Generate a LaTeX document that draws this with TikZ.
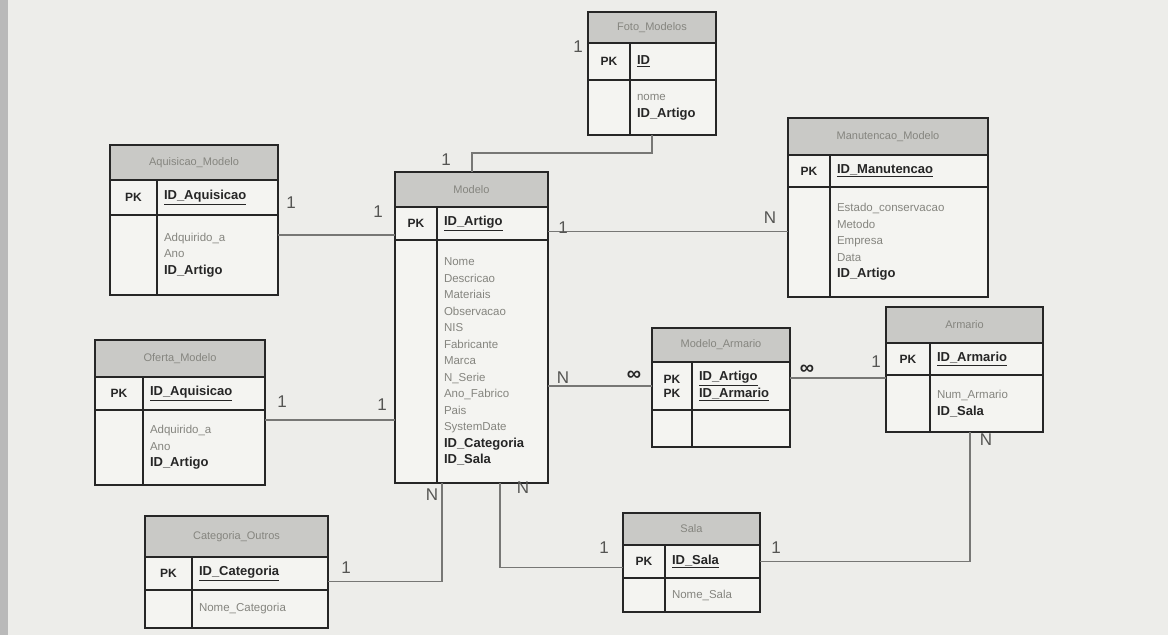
\documentclass[tikz,border=0pt]{standalone}
\usepackage{fontspec}
\setmainfont{Liberation Sans}
\usetikzlibrary{positioning}
\definecolor{paper}{HTML}{EDEDEA}
\definecolor{cellbg}{HTML}{F4F4F1}
\definecolor{hdrbg}{HTML}{C9C9C6}
\definecolor{ink}{HTML}{262626}
\definecolor{fld}{HTML}{85857F}
\definecolor{lbl}{HTML}{555553}
\definecolor{wire}{HTML}{777775}
\newcommand\idf[1]{{\fontsize{13}{16.5}\selectfont\bfseries\color{ink}#1}}
\newcommand\pkf[1]{\idf{\underline{#1}}}
\begin{document}
\begin{tikzpicture}[
    x=1pt,y=-1pt,
    box/.style={draw=ink,line width=1.6pt,outer sep=0pt,inner sep=0pt,anchor=north west},
    hd/.style={box,fill=hdrbg,text=fld,font=\fontsize{11}{13}\selectfont},
    kc/.style={box,fill=cellbg,text=ink,align=center,font=\fontsize{12}{14}\selectfont\bfseries},
    fc/.style={box,fill=cellbg,text=fld,align=left,inner xsep=7pt,font=\fontsize{11.5}{16.5}\selectfont},
    conn/.style={draw=wire,line width=1.1pt},
    card/.style={text=lbl,font=\fontsize{17}{17}\selectfont,inner sep=0pt},
    inf/.style={text=ink,font=\fontsize{20}{20}\selectfont\bfseries,inner sep=0pt}
  ]
    \useasboundingbox (0,0) rectangle (1168,635);
    \fill[paper] (0,0) rectangle (1168,635);
    \fill[gray!55] (0,0) rectangle (8,635);
    % Foto_Modelos
    \node[hd, minimum width=128pt, minimum height=31pt] (foto) at (588,12) {Foto\_Modelos};
    \node[kc, minimum width=42pt, minimum height=37pt] (foto-k) at (foto.south west) {PK};
    \node[fc, text width=72pt, minimum height=37pt] (foto-id) at (foto-k.north east) {\pkf{ID}};
    \node[kc, minimum width=42pt, minimum height=55pt] (foto-b) at (foto-k.south west) {};
    \node[fc, text width=72pt, minimum height=55pt] (foto-f) at (foto-b.north east) {nome\\\idf{ID\_Artigo}};
    % Aquisicao_Modelo
    \node[hd, minimum width=168pt, minimum height=35pt] (aqu) at (110,145) {Aquisicao\_Modelo};
    \node[kc, minimum width=47pt, minimum height=35pt] (aqu-k) at (aqu.south west) {PK};
    \node[fc, text width=107pt, minimum height=35pt] (aqu-id) at (aqu-k.north east) {\pkf{ID\_Aquisicao}};
    \node[kc, minimum width=47pt, minimum height=80pt] (aqu-b) at (aqu-k.south west) {};
    \node[fc, text width=107pt, minimum height=80pt] (aqu-f) at (aqu-b.north east) {Adquirido\_a\\Ano\\\idf{ID\_Artigo}};
    % Oferta_Modelo
    \node[hd, minimum width=170pt, minimum height=37pt] (ofe) at (95,340) {Oferta\_Modelo};
    \node[kc, minimum width=48pt, minimum height=33pt] (ofe-k) at (ofe.south west) {PK};
    \node[fc, text width=108pt, minimum height=33pt] (ofe-id) at (ofe-k.north east) {\pkf{ID\_Aquisicao}};
    \node[kc, minimum width=48pt, minimum height=75pt] (ofe-b) at (ofe-k.south west) {};
    \node[fc, text width=108pt, minimum height=75pt] (ofe-f) at (ofe-b.north east) {Adquirido\_a\\Ano\\\idf{ID\_Artigo}};
    % Modelo
    \node[hd, minimum width=153pt, minimum height=35pt] (modelo) at (395,172) {Modelo};
    \node[kc, minimum width=42pt, minimum height=33pt] (modelo-k) at (modelo.south west) {PK};
    \node[fc, text width=97pt, minimum height=33pt] (modelo-id) at (modelo-k.north east) {\pkf{ID\_Artigo}};
    \node[kc, minimum width=42pt, minimum height=243pt] (modelo-b) at (modelo-k.south west) {};
    \node[fc, text width=97pt, minimum height=243pt] (modelo-f) at (modelo-b.north east)
      {Nome\\Descricao\\Materiais\\Observacao\\NIS\\Fabricante\\Marca\\N\_Serie\\Ano\_Fabrico\\Pais\\SystemDate\\\idf{ID\_Categoria}\\\idf{ID\_Sala}};
    % Manutencao_Modelo
    \node[hd, minimum width=200pt, minimum height=37pt] (manu) at (788,118) {Manutencao\_Modelo};
    \node[kc, minimum width=42pt, minimum height=32pt] (manu-k) at (manu.south west) {PK};
    \node[fc, text width=144pt, minimum height=32pt] (manu-id) at (manu-k.north east) {\pkf{ID\_Manutencao}};
    \node[kc, minimum width=42pt, minimum height=110pt] (manu-b) at (manu-k.south west) {};
    \node[fc, text width=144pt, minimum height=110pt] (manu-f) at (manu-b.north east)
      {Estado\_conservacao\\Metodo\\Empresa\\Data\\\idf{ID\_Artigo}};
    % Modelo_Armario
    \node[hd, minimum width=138pt, minimum height=34pt] (ma) at (652,328) {Modelo\_Armario};
    \node[kc, minimum width=40pt, minimum height=48pt] (ma-k) at (ma.south west) {PK\\PK};
    \node[fc, text width=84pt, minimum height=48pt] (ma-id) at (ma-k.north east) {\pkf{ID\_Artigo}\\\pkf{ID\_Armario}};
    \node[kc, minimum width=40pt, minimum height=37pt] (ma-b) at (ma-k.south west) {};
    \node[fc, text width=84pt, minimum height=37pt] (ma-f) at (ma-b.north east) {};
    % Armario
    \node[hd, minimum width=157pt, minimum height=36pt] (arm) at (886,307) {Armario};
    \node[kc, minimum width=44pt, minimum height=32pt] (arm-k) at (arm.south west) {PK};
    \node[fc, text width=99pt, minimum height=32pt] (arm-id) at (arm-k.north east) {\pkf{ID\_Armario}};
    \node[kc, minimum width=44pt, minimum height=57pt] (arm-b) at (arm-k.south west) {};
    \node[fc, text width=99pt, minimum height=57pt] (arm-f) at (arm-b.north east) {Num\_Armario\\\idf{ID\_Sala}};
    % Categoria_Outros
    \node[hd, minimum width=183pt, minimum height=41pt] (cat) at (145,516) {Categoria\_Outros};
    \node[kc, minimum width=47pt, minimum height=33pt] (cat-k) at (cat.south west) {PK};
    \node[fc, text width=122pt, minimum height=33pt] (cat-id) at (cat-k.north east) {\pkf{ID\_Categoria}};
    \node[kc, minimum width=47pt, minimum height=38pt] (cat-b) at (cat-k.south west) {};
    \node[fc, text width=122pt, minimum height=38pt] (cat-f) at (cat-b.north east) {Nome\_Categoria};
    % Sala
    \node[hd, minimum width=137pt, minimum height=32pt] (sala) at (623,513) {Sala};
    \node[kc, minimum width=42pt, minimum height=33pt] (sala-k) at (sala.south west) {PK};
    \node[fc, text width=81pt, minimum height=33pt] (sala-id) at (sala-k.north east) {\pkf{ID\_Sala}};
    \node[kc, minimum width=42pt, minimum height=34pt] (sala-b) at (sala-k.south west) {};
    \node[fc, text width=81pt, minimum height=34pt] (sala-f) at (sala-b.north east) {Nome\_Sala};
    % relations
    \draw[conn] ([xshift=22pt]foto-b.south east) -- ++(0,18) -| ([xshift=77pt]modelo.north west);
    \draw[conn] ([yshift=-20pt]aqu-f.north east) -- ([yshift=-20pt]aqu-f.north east -| modelo-k.west);
    \draw[conn] ([yshift=-8pt]modelo-id.east) -- ([yshift=-8pt]modelo-id.east -| manu-b.west);
    \draw[conn] ([yshift=-10pt]ofe-f.north east) -- ([yshift=-10pt]ofe-f.north east -| modelo-b.west);
    \draw[conn] (modelo-f.east |- ma-k.west) -- (ma-k.west);
    \draw[conn] ([yshift=8pt]ma-id.east) -- ([yshift=8pt]ma-id.east -| arm-b.west);
    \draw[conn] ([xshift=5pt]modelo-f.south west) |- ([yshift=-8pt]cat-id.east);
    \draw[conn] ([xshift=63pt]modelo-f.south west) |- ([yshift=-6pt]sala-k.west);
    \draw[conn] ([xshift=40pt]arm-b.south east) |- (sala-id.east);
    % cardinalities
    \node[card] (c1) at (578,47) {1};
    \node[card] (c2) at (446,160) {1};
    \node[card] (c3) at (291,203) {1};
    \node[card] (c4) at (378,212) {1};
    \node[card] (c5) at (563,228) {1};
    \node[card] (c6) at (770,218) {N};
    \node[card] (c7) at (282,402) {1};
    \node[card] (c8) at (382,405) {1};
    \node[card] (c9) at (563,378) {N};
    \node[inf] (c10) at (634,376) {∞};
    \node[inf] (c11) at (807,370) {∞};
    \node[card] (c12) at (876,362) {1};
    \node[card] (c13) at (432,495) {N};
    \node[card] (c14) at (523,488) {N};
    \node[card] (c15) at (346,568) {1};
    \node[card] (c16) at (604,548) {1};
    \node[card] (c17) at (776,548) {1};
    \node[card] (c18) at (986,440) {N};
  \end{tikzpicture}
\end{document}
